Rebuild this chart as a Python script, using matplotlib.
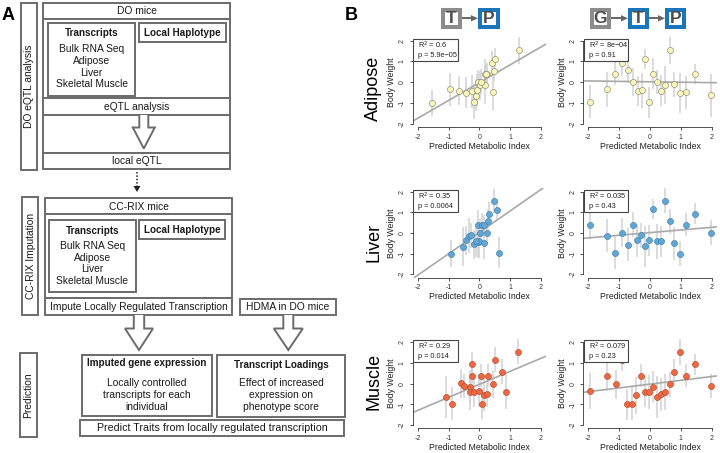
import matplotlib
matplotlib.use("Agg")
import matplotlib.pyplot as plt
from matplotlib.patches import Rectangle, Polygon
import numpy as np

plt.rcParams['font.family'] = ['Liberation Sans', 'DejaVu Sans']
plt.rcParams['axes.unicode_minus'] = False

W, H = 720, 453

# ---------------- data ----------------
tissues = ["Adipose", "Liver", "Muscle"]
axis_ticks = [-2, -1, 0, 1, 2]

adipose_tp_x = [-1.55, -0.95, -0.66, -0.43, -0.25, -0.19, -0.11, -0.09, -0.04, 0.03,
                0.18, 0.19, 0.24, 0.42, 0.49, 0.46, 0.44, 1.28, 0.05, 0.22]
adipose_tp_y = [-0.99, -0.35, -0.41, -0.51, -0.43, -0.94, -0.65, -0.39, -0.01, -0.15,
                -0.14, 0.38, 0.39, 0.92, 1.13, 0.55, -0.49, 1.53, 0.02, 0.40]
adipose_tp_err = [0.63, 0.80, 0.70, 0.75, 0.80, 0.85, 0.75, 0.80, 0.60, 0.70,
                  0.90, 0.75, 0.55, 0.60, 0.50, 0.50, 0.85, 0.65, 0.60, 0.50]

adipose_gtp_x = [-1.94, -1.41, -1.12, -0.91, -0.71, -0.55, -0.40, -0.27, -0.15, -0.03,
                 0.09, 0.22, 0.35, 0.49, 0.64, 0.78, 0.96, 1.18, 1.46, 1.97]
adipose_gtp_y = [-0.94, -0.35, 0.41, 0.92, 0.57, 0.01, -0.41, -0.38, 1.12, -0.97,
                 0.41, 0.01, -0.41, -0.14, 1.53, -0.10, -0.54, -0.49, 0.41, -0.63]
adipose_gtp_err = [0.80, 0.84, 0.55, 0.60, 0.60, 0.68, 0.72, 0.84, 0.50, 0.76,
                   0.76, 0.56, 0.76, 0.92, 0.64, 0.60, 0.96, 0.80, 0.48, 1.04]

liver_tp_x = [-0.92, -0.52, -0.43, -0.34, -0.28, -0.19, -0.06, -0.03, -0.02, 0.03,
              0.08, 0.15, 0.15, 0.25, 0.29, 0.32, 0.46, 0.56, 0.62, -0.10]
liver_tp_y = [-1.01, -0.67, -0.35, -0.14, -0.11, -0.54, -0.43, 0.38, -0.40, 0.01,
              0.38, 0.38, -0.51, 0.01, 0.57, 0.90, 1.55, 1.13, -0.96, -0.38]
liver_tp_err = [0.65, 0.95, 0.70, 0.85, 0.60, 0.70, 0.80, 0.75, 0.80, 0.65,
                0.60, 0.50, 0.75, 0.55, 0.60, 0.60, 0.60, 0.50, 0.75, 0.80]

liver_gtp_x = [-1.94, -1.41, -1.12, -0.91, -0.72, -0.56, -0.42, -0.28, -0.15, -0.03,
               0.09, 0.22, 0.36, 0.49, 0.64, 0.79, 0.97, 1.17, 1.46, 1.97]
liver_gtp_y = [0.40, -0.14, -0.96, 0.01, -0.56, 0.40, -0.35, -0.11, -0.64, -0.36,
               1.16, -0.41, -0.41, 1.56, 0.57, -0.51, -1.00, 0.40, 0.93, 0.02]
liver_gtp_err = [0.70, 0.80, 0.80, 0.70, 0.80, 0.60, 0.80, 0.60, 1.00, 0.75,
                 0.50, 0.85, 0.75, 0.60, 0.60, 0.80, 0.60, 0.55, 0.50, 0.60]

muscle_tp_x = [-1.09, -0.88, -0.59, -0.49, -0.31, -0.29, -0.23, -0.23, -0.19, -0.01,
               0.04, 0.10, 0.16, 0.24, 0.27, 0.43, 0.52, 0.74, 0.85, 1.26]
muscle_tp_y = [-0.65, -0.97, 0.02, -0.11, -0.15, -0.42, 0.94, 0.39, -0.42, -0.34,
               0.39, -1.00, -0.53, -0.52, 0.39, -0.02, 1.15, 0.58, -0.39, 1.55]
muscle_tp_err = [1.00, 0.80, 0.70, 0.60, 0.80, 0.85, 0.60, 0.75, 0.70, 0.80,
                 0.55, 0.70, 0.80, 0.60, 0.55, 0.65, 0.60, 0.60, 0.85, 0.60]

muscle_gtp_x = [-1.94, -1.41, -1.11, -0.74, -0.59, -0.44, -0.30, -0.16, -0.03, 0.10,
                0.23, 0.36, 0.49, 0.64, 0.78, 0.96, 1.18, 1.46, 1.98, -0.90]
muscle_gtp_y = [-0.35, 0.39, -0.02, -1.00, -0.97, -0.56, 0.39, -0.40, -0.40, -0.15,
                -0.65, -0.52, -0.40, -0.02, 0.58, 1.55, 0.39, 0.94, -0.11, 1.13]
muscle_gtp_err = [0.85, 0.75, 0.70, 0.75, 0.80, 0.90, 0.55, 0.75, 0.80, 0.75,
                  1.00, 0.80, 0.85, 0.60, 0.60, 0.65, 0.55, 0.50, 0.60, 0.50]

# regression fits: slope, intercept
fit_slope = [[0.86, -0.02], [1.04, 0.128], [0.63, 0.183]]
fit_intercept = [[-0.02, 0.02], [0.03, 0.017], [-0.03, -0.02]]

r2_labels = [["0.6", "8e\u221204"], ["0.35", "0.035"], ["0.29", "0.079"]]
p_labels = [["5.9e\u221205", "0.91"], ["0.0064", "0.43"], ["0.014", "0.23"]]

panel_x = [[adipose_tp_x, adipose_gtp_x], [liver_tp_x, liver_gtp_x], [muscle_tp_x, muscle_gtp_x]]
panel_y = [[adipose_tp_y, adipose_gtp_y], [liver_tp_y, liver_gtp_y], [muscle_tp_y, muscle_gtp_y]]
panel_e = [[adipose_tp_err, adipose_gtp_err], [liver_tp_err, liver_gtp_err], [muscle_tp_err, muscle_gtp_err]]

tissue_colors = ["#faf5bb", "#62a6d5", "#ec6842"]
tissue_edges = ["#8a8a70", "#3f7fae", "#b54a2c"]

# ---------------- figure ----------------
fig = plt.figure(figsize=(W / 100, H / 100), dpi=100)
ov = fig.add_axes([0, 0, 1, 1])
ov.set_xlim(0, W)
ov.set_ylim(H, 0)
ov.axis('off')

EC = "#6b6b6b"
LW = 1.4
FS = 7.4
FB = 7.1


def box(x0, y0, x1, y1, lw=LW, ec=EC, fc='white', z=1):
    ov.add_patch(Rectangle((x0, y0), x1 - x0, y1 - y0, facecolor=fc, edgecolor=ec, lw=lw, zorder=z))


def txt(x, y, s, bold=False, size=None, rot=0, color='#1a1a1a', ha='center'):
    if size is None:
        size = FB if bold else FS
    ov.text(x, y, s, ha=ha, va='center', fontsize=size, rotation=rot,
            fontweight='bold' if bold else 'normal', color=color, zorder=5)


def hollow_arrow(cx, top, sw, hw, neck, tip):
    pts = [(cx - sw, top), (cx - sw, neck), (cx - hw, neck), (cx, tip),
           (cx + hw, neck), (cx + sw, neck), (cx + sw, top)]
    ov.add_patch(Polygon(pts, closed=False, facecolor='white', edgecolor=EC, lw=LW, zorder=3,
                         joinstyle='miter'))


# Panel A
txt(8.5, 15, "A", bold=True, size=13, color='black')

box(21, 3, 37, 170)
txt(29.5, 86, "DO eQTL analysis", rot=90)
box(43, 3, 230, 19)
txt(136.5, 11.5, "DO mice")
box(43, 19, 230, 98)
box(48, 23, 135, 96)
txt(91.5, 33.5, "Transcripts", bold=True)
for yy, s in zip([49.5, 61, 72.5, 84], ["Bulk RNA Seq", "Adipose", "Liver", "Skeletal Muscle"]):
    txt(91.5, yy, s)
box(139, 23, 226, 42)
txt(182.5, 33.5, "Local Haplotype", bold=True)
box(43, 98, 230, 115)
txt(136.5, 107, "eQTL analysis")
box(43, 115, 230, 153)
hollow_arrow(143.8, 115, 4.5, 11, 127.5, 148.5)
box(43, 153, 230, 169)
txt(136.5, 161.5, "local eQTL")

# dotted arrow
ov.plot([137, 137], [172, 186], color='#222222', lw=1.1, ls=(0, (1, 1.2)), zorder=3)
ov.add_patch(Polygon([(133.5, 186), (140.5, 186), (137, 192)], closed=True,
                     facecolor='#222222', edgecolor='none', zorder=3))

box(22, 197, 38, 315)
txt(30.5, 256, "CC-RIX Imputation", rot=90)
box(45, 198, 232, 214)
txt(138.5, 206.5, "CC-RIX mice")
box(45, 214, 232, 298)
box(49, 220, 136, 292)
txt(92.5, 230.5, "Transcripts", bold=True)
for yy, s in zip([246, 258, 269.5, 281], ["Bulk RNA Seq", "Adipose", "Liver", "Skeletal Muscle"]):
    txt(92.5, yy, s)
box(139, 220, 225, 239)
txt(182, 230, "Local Haplotype", bold=True)
box(45, 298, 232, 315)
txt(138.5, 306.5, "Impute Locally Regulated Transcription")
box(240, 299, 336, 315)
txt(288, 306.5, "HDMA in DO mice")

hollow_arrow(139, 315, 5.2, 14, 328.5, 350)
hollow_arrow(288.3, 315, 5, 14.5, 328.5, 350)

box(20, 353, 37, 437)
txt(28.5, 395, "Prediction", rot=90)
box(82, 355, 212, 416)
txt(147, 363.5, "Imputed gene expression", bold=True)
for yy, s in zip([382.5, 394.5, 406.5], ["Locally controlled", "transcripts for each", "individual"]):
    txt(147, yy, s)
box(217, 355, 345, 417)
txt(281, 364.5, "Transcript Loadings", bold=True)
for yy, s in zip([382.5, 394.5, 406.5], ["Effect of increased", "expression on", "phenotype score"]):
    txt(281, yy, s)
box(80, 420, 344, 436)
txt(212, 428, "Predict Traits from locally regulated transcription", size=7.7)

# Panel B label
txt(351.5, 15, "B", bold=True, size=13, color='black')

# Header boxes
GRAY_B = "#8c8c8c"
BLUE_B = "#1b75bb"
LET = "#4d4d4d"


def letter_box(x0, x1, letter, color):
    y0, y1 = 7.5, 29.0
    ov.add_patch(Rectangle((x0 + 2, y0 + 2), x1 - x0 - 4, y1 - y0 - 4, facecolor='white',
                           edgecolor=color, lw=2.9, zorder=4))
    txt((x0 + x1) / 2, (y0 + y1) / 2 + 0.5, letter, bold=True, size=12.5, color=LET)


def small_arrow(x0, x1):
    y = 18.3
    ov.plot([x0, x1 - 6], [y, y], color='#666666', lw=1.4, zorder=4, solid_capstyle='butt')
    ov.add_patch(Polygon([(x1 - 7, y - 3.2), (x1 - 7, y + 3.2), (x1, y)], closed=True,
                         facecolor='#666666', edgecolor='none', zorder=4))


letter_box(441, 462, "T", GRAY_B)
small_arrow(462, 478)
letter_box(478, 499.5, "P", BLUE_B)

letter_box(590, 610.5, "G", GRAY_B)
small_arrow(610.5, 628)
letter_box(628, 648.5, "T", BLUE_B)
small_arrow(648.5, 665)
letter_box(665, 685.5, "P", BLUE_B)

# Row labels
for yy, s in zip([88, 242, 381], tissues):
    txt(373.5, yy, s, size=13, rot=90, color='black')

# Scatter panels
col_lr = [(412.8, 546.0), (583.4, 716.6)]
row_tb = [(37.4, 127.0), (188.4, 277.5), (339.0, 428.4)]

for r in range(3):
    for c in range(2):
        l, rr = col_lr[c]
        t, b = row_tb[r]
        ax = fig.add_axes([l / W, 1 - b / H, (rr - l) / W, (b - t) / H])
        ax.patch.set_alpha(0)
        x = np.array(panel_x[r][c])
        y = np.array(panel_y[r][c])
        e = np.array(panel_e[r][c])
        ax.vlines(x, y - e, y + e, color='#d2d2d2', lw=1.1, zorder=1)
        ax.axline((0, fit_intercept[r][c]), slope=fit_slope[r][c], color='#a9a9a9', lw=1.2, zorder=2)
        ax.scatter(x, y, s=19, c=tissue_colors[r], edgecolors=tissue_edges[r], linewidths=0.45, zorder=3)
        ax.set_xlim(-2.16, 2.16)
        ax.set_ylim(-2.16, 2.16)
        ax.set_xticks(axis_ticks)
        ax.set_yticks(axis_ticks)
        ax.set_xticklabels([str(v) for v in axis_ticks])
        ax.set_yticklabels([str(v) for v in axis_ticks])
        for sp in ['top', 'right']:
            ax.spines[sp].set_visible(False)
        for sp in ['left', 'bottom']:
            ax.spines[sp].set_bounds(-2, 2)
            ax.spines[sp].set_linewidth(0.6)
            ax.spines[sp].set_color('#333333')
        ax.tick_params(labelsize=5, length=2.5, width=0.6, pad=2.5, colors='#333333')
        for lab in ax.get_yticklabels():
            lab.set_rotation(90)
            lab.set_va('center')
        ax.set_xlabel("Predicted Metabolic Index", fontsize=6.3, color='#222222')
        ax.xaxis.set_label_coords(0.5, -0.165)
        ax.set_ylabel("Body Weight", fontsize=6.3, color='#222222')
        ax.yaxis.set_label_coords(-0.125, 0.5)
        ax.add_patch(Rectangle((0.003, 0.74), 0.335, 0.245, transform=ax.transAxes,
                               facecolor='white', edgecolor='#444444', lw=0.8, zorder=5))
        ax.text(0.04, 0.915, "R$^2$ = " + r2_labels[r][c], transform=ax.transAxes,
                fontsize=5.3, va='center', ha='left', zorder=6, color='#222222')
        ax.text(0.04, 0.80, "p = " + p_labels[r][c], transform=ax.transAxes,
                fontsize=5.3, va='center', ha='left', zorder=6, color='#222222')

fig.savefig("out.png", dpi=100)
